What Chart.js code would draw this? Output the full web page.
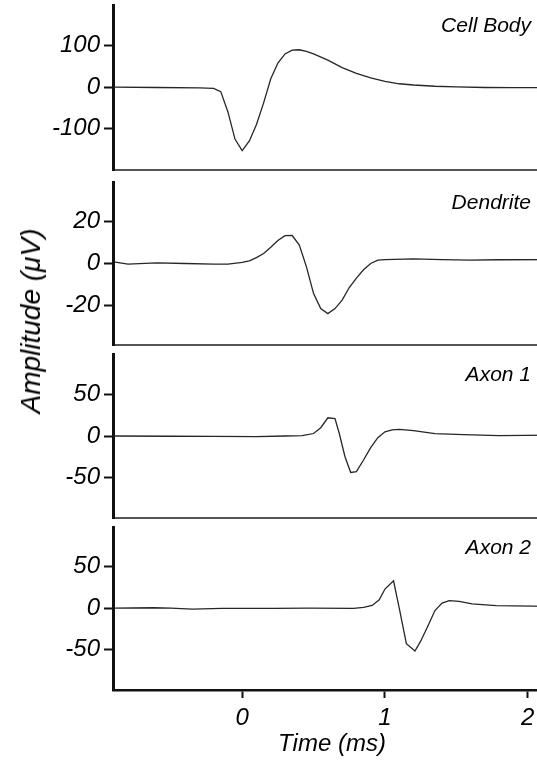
<!DOCTYPE html>
<html>
<head>
<meta charset="utf-8">
<script src="https://cdn.jsdelivr.net/npm/chart.js@4/dist/chart.umd.min.js"></script>
<style>
html,body{margin:0;padding:0;background:#fff;}
#wrap{position:relative;width:537px;height:761px;overflow:hidden;background:#fff;}
#wrap canvas{position:absolute;left:0;top:0;}
#ylab{position:absolute;left:31px;top:321px;transform:translate(-50%,-50%) rotate(-90deg);
  font:italic 28px "Liberation Sans", Arial, sans-serif;white-space:nowrap;color:#000;}
</style>
</head>
<body>
<div id="wrap">
  <canvas id="c0" width="551" height="761"></canvas>
  <canvas id="c1" width="551" height="761"></canvas>
  <canvas id="c2" width="551" height="761"></canvas>
  <canvas id="c3" width="551" height="761"></canvas>
  <div id="ylab">Amplitude (μV)</div>
</div>
<script>
// ---------- data ----------
const panelNames = ['Cell Body', 'Dendrite', 'Axon 1', 'Axon 2'];

const cellBodyTime = [-0.9, -0.6, -0.3, -0.2, -0.15, -0.1, -0.05, 0, 0.05, 0.1, 0.15, 0.2, 0.25, 0.3, 0.35, 0.4, 0.45, 0.5, 0.6, 0.7, 0.8, 0.9, 1.0, 1.1, 1.2, 1.35, 1.5, 1.7, 1.9, 2.2];
const cellBodyAmp  = [0, -1, -2, -3, -11, -60, -126, -153, -130, -90, -38, 20, 58, 80, 89, 90, 86, 80, 65, 47, 33, 22, 14, 8, 5, 2, 0.5, -1, -1.5, -1.5];

const dendriteTime = [-0.9, -0.8, -0.6, -0.4, -0.2, -0.1, 0, 0.05, 0.1, 0.15, 0.2, 0.25, 0.3, 0.35, 0.4, 0.45, 0.5, 0.55, 0.6, 0.65, 0.7, 0.75, 0.8, 0.85, 0.9, 0.95, 1.0, 1.2, 1.4, 1.6, 1.8, 2.2];
const dendriteAmp  = [0.8, -0.3, 0.3, 0, -0.3, -0.3, 0.5, 1.3, 2.8, 4.8, 7.8, 11, 13.3, 13.4, 8.8, -1.6, -14.4, -21.6, -24, -21.6, -17.5, -11.5, -7, -3, 0, 1.6, 1.9, 2.2, 1.9, 1.6, 1.8, 1.9];

const axon1Time = [-0.9, -0.5, -0.2, 0.1, 0.3, 0.42, 0.5, 0.55, 0.6, 0.65, 0.68, 0.72, 0.76, 0.8, 0.85, 0.9, 0.95, 1.0, 1.05, 1.1, 1.2, 1.35, 1.55, 1.8, 2.2];
const axon1Amp  = [0, -0.3, -0.4, -0.8, 0, 0.4, 3, 10, 22, 21, 3, -25, -44, -43, -29, -14, -2, 5, 7.5, 8, 6.4, 2.8, 1.6, 0.4, 1.2];

const axon2Time = [-0.9, -0.62, -0.5, -0.35, -0.14, 0.22, 0.46, 0.78, 0.85, 0.91, 0.96, 1.0, 1.06, 1.1, 1.15, 1.21, 1.25, 1.3, 1.35, 1.4, 1.45, 1.52, 1.61, 1.78, 2.2];
const axon2Amp  = [0, 0.4, 0, -1.2, -0.4, -0.4, 0, -0.4, 0.8, 3.2, 10, 23, 33, 0, -43, -52, -40, -22, -3, 6, 9, 8, 5, 3, 2];

const cellBodyTicks = [-100, 0, 100];
const dendriteTicks = [-20, 0, 20];
const axon1Ticks = [-50, 0, 50];
const axon2Ticks = [-50, 0, 50];
const timeTicks = [0, 1, 2];

const xTitle = 'Time (ms)';

// ---------- build ----------
const H = 761;
const FONT = '"Liberation Sans", Arial, sans-serif';
const panels = [
  {name: panelNames[0], t: cellBodyTime, v: cellBodyAmp, ticks: cellBodyTicks, ymin: -200, ymax: 198, top: 5,   bottom: 170},
  {name: panelNames[1], t: dendriteTime, v: dendriteAmp, ticks: dendriteTicks, ymin: -39,  ymax: 39,  top: 182, bottom: 345},
  {name: panelNames[2], t: axon1Time,    v: axon1Amp,    ticks: axon1Ticks,    ymin: -99,  ymax: 99,  top: 354, bottom: 518},
  {name: panelNames[3], t: axon2Time,    v: axon2Amp,    ticks: axon2Ticks,    ymin: -99,  ymax: 98,  top: 527, bottom: 690}
];
const AXIS_LEFT = 113;

const panelLabel = {
  id: 'panelLabel',
  afterDraw(chart, args, opts) {
    const {ctx, chartArea} = chart;
    ctx.save();
    ctx.font = 'italic 21px ' + FONT;
    ctx.fillStyle = '#000';
    ctx.textAlign = 'right';
    ctx.textBaseline = 'middle';
    ctx.fillText(opts.text, 531, chartArea.top + 21);
    ctx.restore();
  }
};

panels.forEach((p, i) => {
  const last = i === panels.length - 1;
  const pts = p.t.map((t, k) => ({x: t, y: p.v[k]}));
  new Chart(document.getElementById('c' + i), {
    type: 'line',
    data: {datasets: [{
      label: p.name,
      data: pts,
      borderColor: '#262626',
      borderWidth: 1.3,
      pointRadius: 0,
      tension: 0,
      fill: false
    }]},
    options: {
      responsive: false,
      devicePixelRatio: 1,
      animation: false,
      events: [],
      layout: {padding: {top: p.top, bottom: last ? 0 : H - p.bottom, left: 0, right: 0}},
      plugins: {
        legend: {display: false},
        tooltip: {enabled: false},
        panelLabel: {text: p.name}
      },
      scales: {
        x: {
          type: 'linear',
          min: -0.905, max: 2.163,
          afterBuildTicks: s => { s.ticks = timeTicks.map(v => ({value: v})); },
          afterFit: s => {
            s.height = last ? (H - p.bottom) : 0;
            s.paddingLeft = 0; s.paddingRight = 0;
          },
          border: {display: true, color: last ? '#111' : '#555', width: last ? 2.5 : 2},
          grid: {display: last, drawOnChartArea: false, drawTicks: last, tickLength: 8, tickWidth: 2, tickColor: '#111'},
          ticks: {
            display: last,
            padding: 6,
            color: '#000',
            font: {family: FONT, size: 24, style: 'italic'},
            callback: v => String(v)
          },
          title: {
            display: last,
            text: xTitle,
            color: '#000',
            font: {family: FONT, size: 24, style: 'italic'},
            padding: {top: 0, bottom: 2}
          }
        },
        y: {
          type: 'linear',
          min: p.ymin, max: p.ymax,
          afterBuildTicks: s => { s.ticks = p.ticks.map(v => ({value: v})); },
          afterFit: s => { s.width = AXIS_LEFT; s.paddingTop = 0; s.paddingBottom = 0; },
          border: {display: true, color: '#111', width: 3},
          grid: {display: true, drawOnChartArea: false, drawTicks: true, tickLength: 9, tickWidth: 2, tickColor: '#111'},
          ticks: {
            padding: 4,
            color: '#000',
            font: {family: FONT, size: 24, style: 'italic'},
            callback: v => String(v)
          }
        }
      }
    },
    plugins: [panelLabel]
  });
});
</script>
</body>
</html>
